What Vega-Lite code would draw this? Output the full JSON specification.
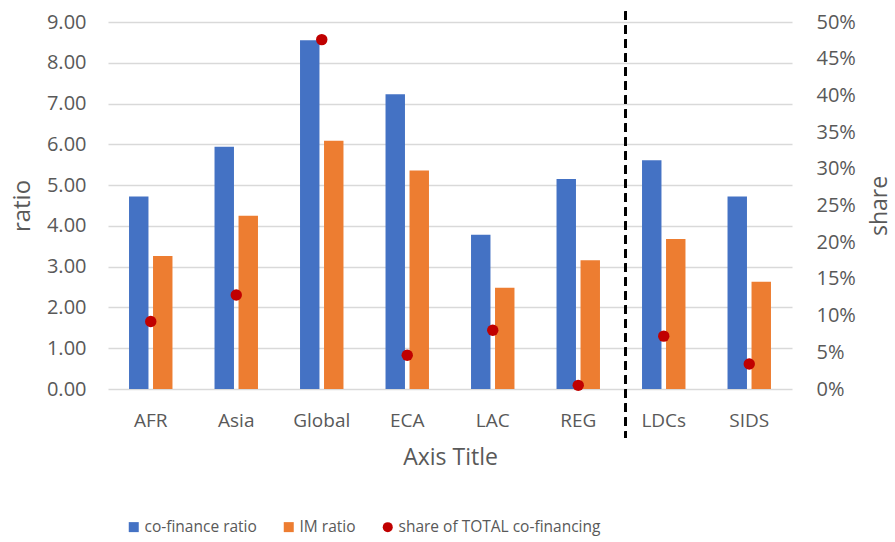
{
  "$schema": "https://vega.github.io/schema/vega-lite/v6.json",
  "width": 684,
  "height": 367,
  "autosize": {"type": "none"},
  "padding": {"left": 108, "top": 22, "right": 103, "bottom": 153},
  "background": "white",
  "config": {
    "font": "Open Sans",
    "view": {"stroke": null},
    "axis": {
      "labelColor": "#595959",
      "titleColor": "#595959",
      "labelFont": "Open Sans",
      "titleFont": "Open Sans",
      "titleFontWeight": "normal",
      "domain": false,
      "ticks": false
    }
  },
  "data": {
    "values": [
      {"region": "AFR", "series": "co-finance ratio", "value": 4.72},
      {"region": "AFR", "series": "IM ratio", "value": 3.26},
      {"region": "AFR", "series": "share of TOTAL co-financing", "value": 0.092},
      {"region": "Asia", "series": "co-finance ratio", "value": 5.94},
      {"region": "Asia", "series": "IM ratio", "value": 4.25},
      {"region": "Asia", "series": "share of TOTAL co-financing", "value": 0.128},
      {"region": "Global", "series": "co-finance ratio", "value": 8.55},
      {"region": "Global", "series": "IM ratio", "value": 6.09},
      {"region": "Global", "series": "share of TOTAL co-financing", "value": 0.476},
      {"region": "ECA", "series": "co-finance ratio", "value": 7.23},
      {"region": "ECA", "series": "IM ratio", "value": 5.36},
      {"region": "ECA", "series": "share of TOTAL co-financing", "value": 0.046},
      {"region": "LAC", "series": "co-finance ratio", "value": 3.78},
      {"region": "LAC", "series": "IM ratio", "value": 2.48},
      {"region": "LAC", "series": "share of TOTAL co-financing", "value": 0.08},
      {"region": "REG", "series": "co-finance ratio", "value": 5.15},
      {"region": "REG", "series": "IM ratio", "value": 3.16},
      {"region": "REG", "series": "share of TOTAL co-financing", "value": 0.005},
      {"region": "LDCs", "series": "co-finance ratio", "value": 5.61},
      {"region": "LDCs", "series": "IM ratio", "value": 3.68},
      {"region": "LDCs", "series": "share of TOTAL co-financing", "value": 0.072},
      {"region": "SIDS", "series": "co-finance ratio", "value": 4.72},
      {"region": "SIDS", "series": "IM ratio", "value": 2.63},
      {"region": "SIDS", "series": "share of TOTAL co-financing", "value": 0.034}
    ]
  },
  "encoding": {
    "x": {
      "field": "region",
      "type": "nominal",
      "sort": null,
      "scale": {"paddingInner": 0, "paddingOuter": 0},
      "axis": {
        "title": "Axis Title",
        "labelAngle": 0,
        "labelFontSize": 19,
        "labelPadding": 22,
        "titleFontSize": 23,
        "titlePadding": 16
      }
    }
  },
  "layer": [
    {
      "layer": [
        {
          "transform": [{"filter": "datum.series !== 'share of TOTAL co-financing'"}],
          "mark": {"type": "bar"},
          "encoding": {
            "xOffset": {
              "field": "series",
              "type": "nominal",
              "sort": ["co-finance ratio", "IM ratio"],
              "scale": {"paddingInner": 0.19, "paddingOuter": 0.876}
            },
            "y": {
              "field": "value",
              "type": "quantitative",
              "scale": {"domain": [0, 9], "nice": false},
              "axis": {
                "title": "ratio",
                "values": [0, 1, 2, 3, 4, 5, 6, 7, 8, 9],
                "format": ".2f",
                "labelFontSize": 20,
                "labelPadding": 22,
                "titleFontSize": 24,
                "titlePadding": 12,
                "grid": true,
                "gridColor": "#d9d9d9",
                "gridWidth": 1.5
              }
            },
            "color": {
              "field": "series",
              "type": "nominal",
              "scale": {
                "domain": ["co-finance ratio", "IM ratio", "share of TOTAL co-financing"],
                "range": ["#4472C4", "#ED7D31", "#C00000"]
              },
              "legend": {
                "title": null,
                "orient": "none",
                "direction": "horizontal",
                "legendX": 18,
                "legendY": 497,
                "padding": 0,
                "labelFontSize": 15.5,
                "labelColor": "#595959",
                "labelFont": "Open Sans",
                "labelLimit": 400,
                "symbolSize": 100,
                "symbolStrokeWidth": 0,
                "labelOffset": 3,
                "columnPadding": 24
              }
            }
          }
        },
        {
          "mark": {"type": "rule", "color": "black", "strokeWidth": 2, "strokeDash": [8, 6]},
          "encoding": {
            "x": {"datum": "LDCs", "bandPosition": 0.055},
            "y": {"datum": 9.25},
            "y2": {"datum": -1.2}
          }
        }
      ]
    },
    {
      "transform": [{"filter": "datum.series === 'share of TOTAL co-financing'"}],
      "mark": {"type": "point", "filled": true, "size": 130, "opacity": 1},
      "encoding": {
        "y": {
          "field": "value",
          "type": "quantitative",
          "scale": {"domain": [0, 0.5], "nice": false},
          "axis": {
            "title": "share",
            "orient": "right",
            "values": [0, 0.05, 0.1, 0.15, 0.2, 0.25, 0.3, 0.35, 0.4, 0.45, 0.5],
            "format": ".0%",
            "labelFontSize": 20,
            "labelPadding": 24,
            "titleFontSize": 23,
            "titleAngle": -90,
            "titleBaseline": "top",
            "titlePadding": 13,
            "grid": false
          }
        },
        "color": {"field": "series", "type": "nominal"},
        "shape": {
          "field": "series",
          "type": "nominal",
          "scale": {
            "domain": ["co-finance ratio", "IM ratio", "share of TOTAL co-financing"],
            "range": ["square", "square", "circle"]
          }
        }
      }
    }
  ],
  "resolve": {"scale": {"y": "independent"}}
}
